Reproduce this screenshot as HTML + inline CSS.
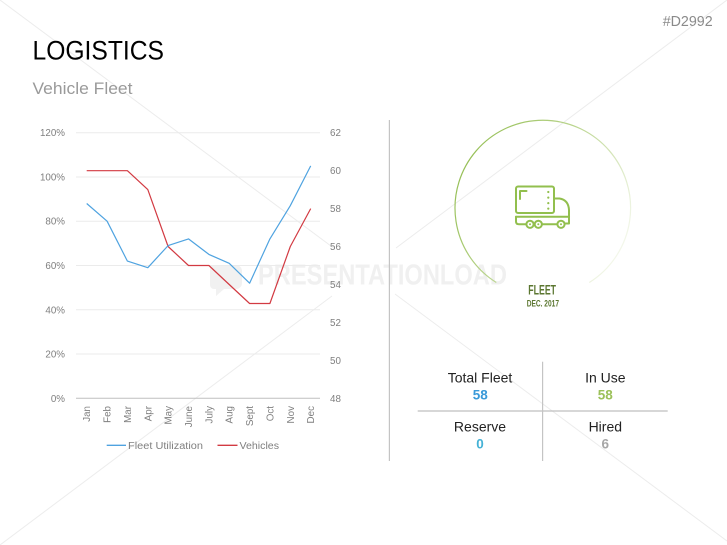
<!DOCTYPE html>
<html><head><meta charset="utf-8"><style>
html,body{margin:0;padding:0;background:#fff;}
svg{display:block;font-family:"Liberation Sans",sans-serif;}
</style></head><body>
<svg width="727" height="545" viewBox="0 0 727 545" xmlns="http://www.w3.org/2000/svg">
<defs>
<linearGradient id="cg" x1="0" y1="0.25" x2="1" y2="0.75">
<stop offset="0" stop-color="#92bd50"/>
<stop offset="0.45" stop-color="#b9d48c"/>
<stop offset="1" stop-color="#f6f9ef"/>
</linearGradient>
</defs>
<!-- watermark diagonals -->
<g stroke="#ececec" stroke-width="1" fill="none">
<line x1="0" y1="0" x2="335" y2="249"/>
<line x1="395" y1="294" x2="727" y2="541"/>
<line x1="0" y1="545" x2="332" y2="296"/>
<line x1="396" y1="248" x2="727" y2="0"/>
</g>
<!-- watermark text -->
<path d="M214 265 h22 a6 6 0 0 1 6 6 v12 a6 6 0 0 1 -6 6 h-12 l-8 7 v-7 h-2 a4 4 0 0 1 -4 -4 v-16 a4 4 0 0 1 4 -4z" fill="#f1f1f1"/>
<text x="258" y="284.3" font-size="29" font-weight="bold" fill="#f0f0f0" textLength="249" lengthAdjust="spacingAndGlyphs">PRESENTATIONLOAD</text>

<!-- header -->
<text x="32.5" y="59.3" font-size="27" fill="#000" textLength="131.5" lengthAdjust="spacingAndGlyphs">LOGISTICS</text>
<text x="32.5" y="94" font-size="17" fill="#9a9a9a" textLength="100" lengthAdjust="spacingAndGlyphs">Vehicle Fleet</text>
<text x="662.7" y="26" font-size="14.5" fill="#8a8a8a" textLength="50" lengthAdjust="spacingAndGlyphs">#D2992</text>

<!-- chart gridlines -->
<g stroke="#ebebeb" stroke-width="1">
<line x1="76" y1="132.7" x2="320" y2="132.7"/>
<line x1="76" y1="177" x2="320" y2="177"/>
<line x1="76" y1="221.2" x2="320" y2="221.2"/>
<line x1="76" y1="265.5" x2="320" y2="265.5"/>
<line x1="76" y1="309.8" x2="320" y2="309.8"/>
<line x1="76" y1="354" x2="320" y2="354"/>
</g>
<line x1="76" y1="398.3" x2="320" y2="398.3" stroke="#bfbfbf" stroke-width="1"/>

<!-- left axis labels -->
<g font-size="9.8" fill="#7f7f7f" text-anchor="end">
<text x="65" y="136.2">120%</text>
<text x="65" y="180.5">100%</text>
<text x="65" y="224.7">80%</text>
<text x="65" y="269">60%</text>
<text x="65" y="313.3">40%</text>
<text x="65" y="357.5">20%</text>
<text x="65" y="401.8">0%</text>
</g>
<!-- right axis labels -->
<g font-size="9.8" fill="#7f7f7f">
<text x="330" y="136.2">62</text>
<text x="330" y="174.2">60</text>
<text x="330" y="212.1">58</text>
<text x="330" y="250">56</text>
<text x="330" y="288">54</text>
<text x="330" y="325.9">52</text>
<text x="330" y="363.9">50</text>
<text x="330" y="401.8">48</text>
</g>
<!-- month labels -->
<g font-size="9.8" fill="#7f7f7f" text-anchor="end">
<text transform="translate(90.2,406) rotate(-90)">Jan</text>
<text transform="translate(110.6,406) rotate(-90)">Feb</text>
<text transform="translate(130.9,406) rotate(-90)">Mar</text>
<text transform="translate(151.3,406) rotate(-90)">Apr</text>
<text transform="translate(171.6,406) rotate(-90)">May</text>
<text transform="translate(192,406) rotate(-90)">June</text>
<text transform="translate(212.4,406) rotate(-90)">July</text>
<text transform="translate(232.7,406) rotate(-90)">Aug</text>
<text transform="translate(253.1,406) rotate(-90)">Sept</text>
<text transform="translate(273.4,406) rotate(-90)">Oct</text>
<text transform="translate(293.8,406) rotate(-90)">Nov</text>
<text transform="translate(314.2,406) rotate(-90)">Dec</text>
</g>

<!-- series -->
<polyline fill="none" stroke="#d23a42" stroke-width="1.2" stroke-linejoin="round"
points="86.7,170.7 107.1,170.7 127.4,170.7 147.8,189.6 168.1,246.5 188.5,265.5 208.9,265.5 229.2,284.5 249.6,303.5 269.9,303.5 290.3,246.5 310.7,208.6"/>
<polyline fill="none" stroke="#4fa3e0" stroke-width="1.2" stroke-linejoin="round"
points="86.7,203.5 107.1,221.2 127.4,261.1 147.8,267.7 168.1,245.6 188.5,238.9 208.9,254.4 229.2,263.3 249.6,283.2 269.9,238.9 290.3,205.7 310.7,165.9"/>

<!-- legend -->
<line x1="106.7" y1="445.3" x2="126" y2="445.3" stroke="#4fa3e0" stroke-width="1.3"/>
<text x="128" y="449" font-size="10" fill="#7f7f7f" textLength="75" lengthAdjust="spacingAndGlyphs">Fleet Utilization</text>
<line x1="217.5" y1="445.3" x2="237.5" y2="445.3" stroke="#d23a42" stroke-width="1.3"/>
<text x="239.5" y="449" font-size="10" fill="#7f7f7f" textLength="39.5" lengthAdjust="spacingAndGlyphs">Vehicles</text>

<!-- divider -->
<line x1="389.4" y1="120" x2="389.4" y2="461" stroke="#c4c4c4" stroke-width="1.2"/>

<!-- circle arc -->
<path d="M496.3 282.5 A87.8 87.8 0 1 1 589.3 282.5" fill="none" stroke="url(#cg)" stroke-width="1.2"/>

<!-- truck icon -->
<g fill="none" stroke="#92bf4e" stroke-width="2" stroke-linecap="round" stroke-linejoin="round">
<rect x="516" y="186.5" width="38" height="26.5" rx="2"/>
<path d="M520 199 V191 H526.5"/>
<path d="M554 198.5 H559.5 Q568.5 200 569 210 V223.5 H565"/>
<path d="M516 216.8 H569"/>
<path d="M516 216.8 V221.5 Q516 224.3 519 224.3 H526"/>
<path d="M542 224.3 H557"/>
<circle cx="530" cy="224.3" r="3.6"/>
<circle cx="538.3" cy="224.3" r="3.6"/>
<circle cx="561" cy="224.3" r="3.6"/>
</g>
<g fill="#92bf4e">
<circle cx="548.3" cy="192" r="1.1"/>
<circle cx="548.3" cy="197.6" r="1.1"/>
<circle cx="548.3" cy="203.1" r="1.1"/>
<circle cx="548.3" cy="208.6" r="1.1"/>
<circle cx="530" cy="224.3" r="1"/>
<circle cx="538.3" cy="224.3" r="1"/>
<circle cx="561" cy="224.3" r="1"/>
</g>

<!-- FLEET label -->
<text x="528.3" y="294.3" font-size="14" font-weight="bold" fill="#5b7630" textLength="27.7" lengthAdjust="spacingAndGlyphs">FLEET</text>
<text x="526.7" y="306.7" font-size="9.4" font-weight="bold" fill="#5b7630" textLength="32.3" lengthAdjust="spacingAndGlyphs">DEC. 2017</text>

<!-- table -->
<line x1="417.7" y1="411" x2="667.7" y2="411" stroke="#bfbfbf" stroke-width="1.2"/>
<line x1="542.6" y1="361.7" x2="542.6" y2="461" stroke="#c4c4c4" stroke-width="1.2"/>
<g font-size="14" fill="#222" text-anchor="middle">
<text x="480" y="382.3">Total Fleet</text>
<text x="605.3" y="382.3">In Use</text>
<text x="480" y="431.7">Reserve</text>
<text x="605.3" y="431.7">Hired</text>
</g>
<g font-size="13.5" font-weight="bold" text-anchor="middle">
<text x="480.3" y="399.3" fill="#3a9ad9">58</text>
<text x="605.3" y="399.3" fill="#9cc15a">58</text>
<text x="480" y="448.3" fill="#45b2d6">0</text>
<text x="605.3" y="448.3" fill="#a6a6a6">6</text>
</g>
</svg>
</body></html>
